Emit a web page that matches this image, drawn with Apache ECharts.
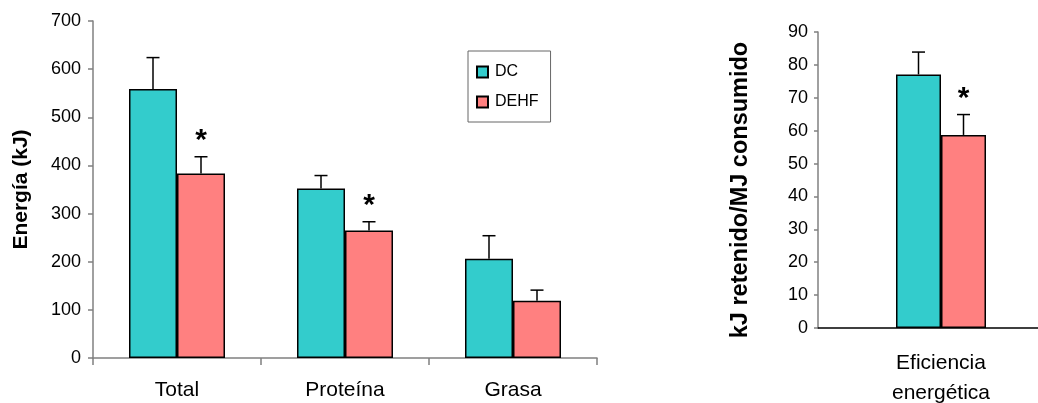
<!DOCTYPE html>
<html>
<head>
<meta charset="utf-8">
<script src="https://cdn.jsdelivr.net/npm/echarts@6/dist/echarts.min.js"></script>
<style>
	html, body { margin: 0; padding: 0; background: #fff; }
	#chart { width: 1038px; height: 403px; }
</style>
</head>
<body>
<div id="chart"></div>
<script>
// datos
var energyCategories = ['Total', 'Proteína', 'Grasa'];
var dcEnergy = [559, 352, 206];
var dcEnergyErr = [65, 27, 48];
var dehfEnergy = [383, 265, 119];
var dehfEnergyErr = [35, 18, 22];
var energySig = [1, 1, 0];//1 = diferencia significativa (*)

var effCategories = ['Eficiencia\nenergética'];
var dcEff = [77.1];
var dcEffErr = [6.8];
var dehfEff = [58.7];
var dehfEffErr = [6.2];
var effSig = [1];

var energyTicks = { min: 0, max: 700, interval: 100 };
var effTicks = { min: 0, max: 90, interval: 10 };

var colorDC = '#33CCCC';
var colorDEHF = '#FF8080';
var fontName = 'Liberation Sans, Arial, sans-serif';

(function(){
	var myChart = echarts.init(document.getElementById('chart'), null, { renderer: 'canvas' });

	// arma datos de barras de error: [categoria, media, error, significativo]
	function errData(means, errs, sig){
		var out = [];
		for (var i = 0; i < means.length; i++) {
			out.push([i, means[i], errs[i], sig ? sig[i] : 0]);
		}
		return out;
	}

	// dibuja barra de error (solo hacia arriba) y asterisco
	function errRender(offsetPx){
		return function(params, api){
			var x = api.value(0);
			var top = api.coord([x, api.value(1) + api.value(2)]);
			var base = api.coord([x, api.value(1)]);
			var cx = base[0] + offsetPx;
			var children = [
				{ type: 'line', shape: { x1: cx, y1: base[1], x2: cx, y2: top[1] },
					style: { stroke: '#000', lineWidth: 1.5 } },
				{ type: 'line', shape: { x1: cx - 6.5, y1: top[1], x2: cx + 6.5, y2: top[1] },
					style: { stroke: '#000', lineWidth: 1.5 } }
			];
			if (api.value(3) == 1) {
				children.push({
					type: 'text',
					style: {
						text: '*', x: cx, y: top[1] - 1,
						fill: '#000', font: 'bold 30px ' + fontName,
						textAlign: 'center', textVerticalAlign: 'bottom'
					}
				});
			}
			return { type: 'group', children: children };
		};
	}

	var axisLineStyle = { color: '#808080', width: 1.5 };
	var barBorder = { borderColor: '#000', borderWidth: 1.5 };

	options = {
		animation: false,
		textStyle: { fontFamily: fontName },
		legend: {
			data: ['DC', 'DEHF'],
			orient: 'vertical',
			left: 468,
			top: 51,
			width: 80,
			padding: [13, 12, 12, 8],
			itemGap: 14,
			itemWidth: 11,
			itemHeight: 11,
			icon: 'rect',
			borderColor: '#666',
			borderWidth: 1,
			textStyle: { fontSize: 16, color: '#000', padding: [0, 0, 0, 2] }
		},
		grid: [
			{ left: 93, top: 21, width: 504, bottom: 45, outerBoundsMode: 'none' },
			{ left: 818, top: 32, width: 246, bottom: 75, outerBoundsMode: 'none' }
		],
		xAxis: [
			{
				type: 'category', gridIndex: 0, data: energyCategories,
				axisLine: { lineStyle: axisLineStyle },
				axisTick: { show: true, length: 7, lineStyle: axisLineStyle },
				axisLabel: { fontSize: 21, color: '#000', margin: 22 }
			},
			{
				type: 'category', gridIndex: 1, data: effCategories,
				axisLine: { lineStyle: { color: '#000', width: 1.5 } },
				axisTick: { show: false },
				axisLabel: { fontSize: 21, color: '#000', margin: 20, lineHeight: 30 }
			}
		],
		yAxis: [
			{
				type: 'value', gridIndex: 0,
				min: energyTicks.min, max: energyTicks.max, interval: energyTicks.interval,
				name: 'Energía (kJ)', nameLocation: 'middle', nameGap: 61,
				nameTextStyle: { fontSize: 21, fontWeight: 'bold', color: '#000' },
				axisLine: { show: true, lineStyle: axisLineStyle },
				axisTick: { show: true, length: 5, lineStyle: axisLineStyle },
				axisLabel: { fontSize: 18, color: '#000', margin: 12 },
				splitLine: { show: false }
			},
			{
				type: 'value', gridIndex: 1,
				min: effTicks.min, max: effTicks.max, interval: effTicks.interval,
				name: 'kJ retenido/MJ consumido', nameLocation: 'middle', nameGap: 65,
				nameTextStyle: { fontSize: 23.5, fontWeight: 'bold', color: '#000', padding: [0, 20, 0, 0] },
				axisLine: { show: true, lineStyle: axisLineStyle },
				axisTick: { show: true, length: 4, lineStyle: axisLineStyle },
				axisLabel: { fontSize: 18, color: '#000', margin: 10 },
				splitLine: { show: false }
			}
		],
		series: [
			{ name: 'DC', type: 'bar', xAxisIndex: 0, yAxisIndex: 0, data: dcEnergy,
				barWidth: 48, barGap: '0%', itemStyle: Object.assign({ color: colorDC }, barBorder) },
			{ name: 'DEHF', type: 'bar', xAxisIndex: 0, yAxisIndex: 0, data: dehfEnergy,
				barWidth: 48, barGap: '0%', itemStyle: Object.assign({ color: colorDEHF }, barBorder) },
			{ name: 'DC', type: 'bar', xAxisIndex: 1, yAxisIndex: 1, data: dcEff,
				barWidth: 45, barGap: '0%', itemStyle: Object.assign({ color: colorDC }, barBorder) },
			{ name: 'DEHF', type: 'bar', xAxisIndex: 1, yAxisIndex: 1, data: dehfEff,
				barWidth: 45, barGap: '0%', itemStyle: Object.assign({ color: colorDEHF }, barBorder) },
			{ type: 'custom', xAxisIndex: 0, yAxisIndex: 0, z: 5,
				data: errData(dcEnergy, dcEnergyErr), renderItem: errRender(-24) },
			{ type: 'custom', xAxisIndex: 0, yAxisIndex: 0, z: 5,
				data: errData(dehfEnergy, dehfEnergyErr, energySig), renderItem: errRender(24) },
			{ type: 'custom', xAxisIndex: 1, yAxisIndex: 1, z: 5,
				data: errData(dcEff, dcEffErr), renderItem: errRender(-22.5) },
			{ type: 'custom', xAxisIndex: 1, yAxisIndex: 1, z: 5,
				data: errData(dehfEff, dehfEffErr, effSig), renderItem: errRender(22.5) }
		]
	};
	myChart.setOption(options);
})();
</script>
</body>
</html>
